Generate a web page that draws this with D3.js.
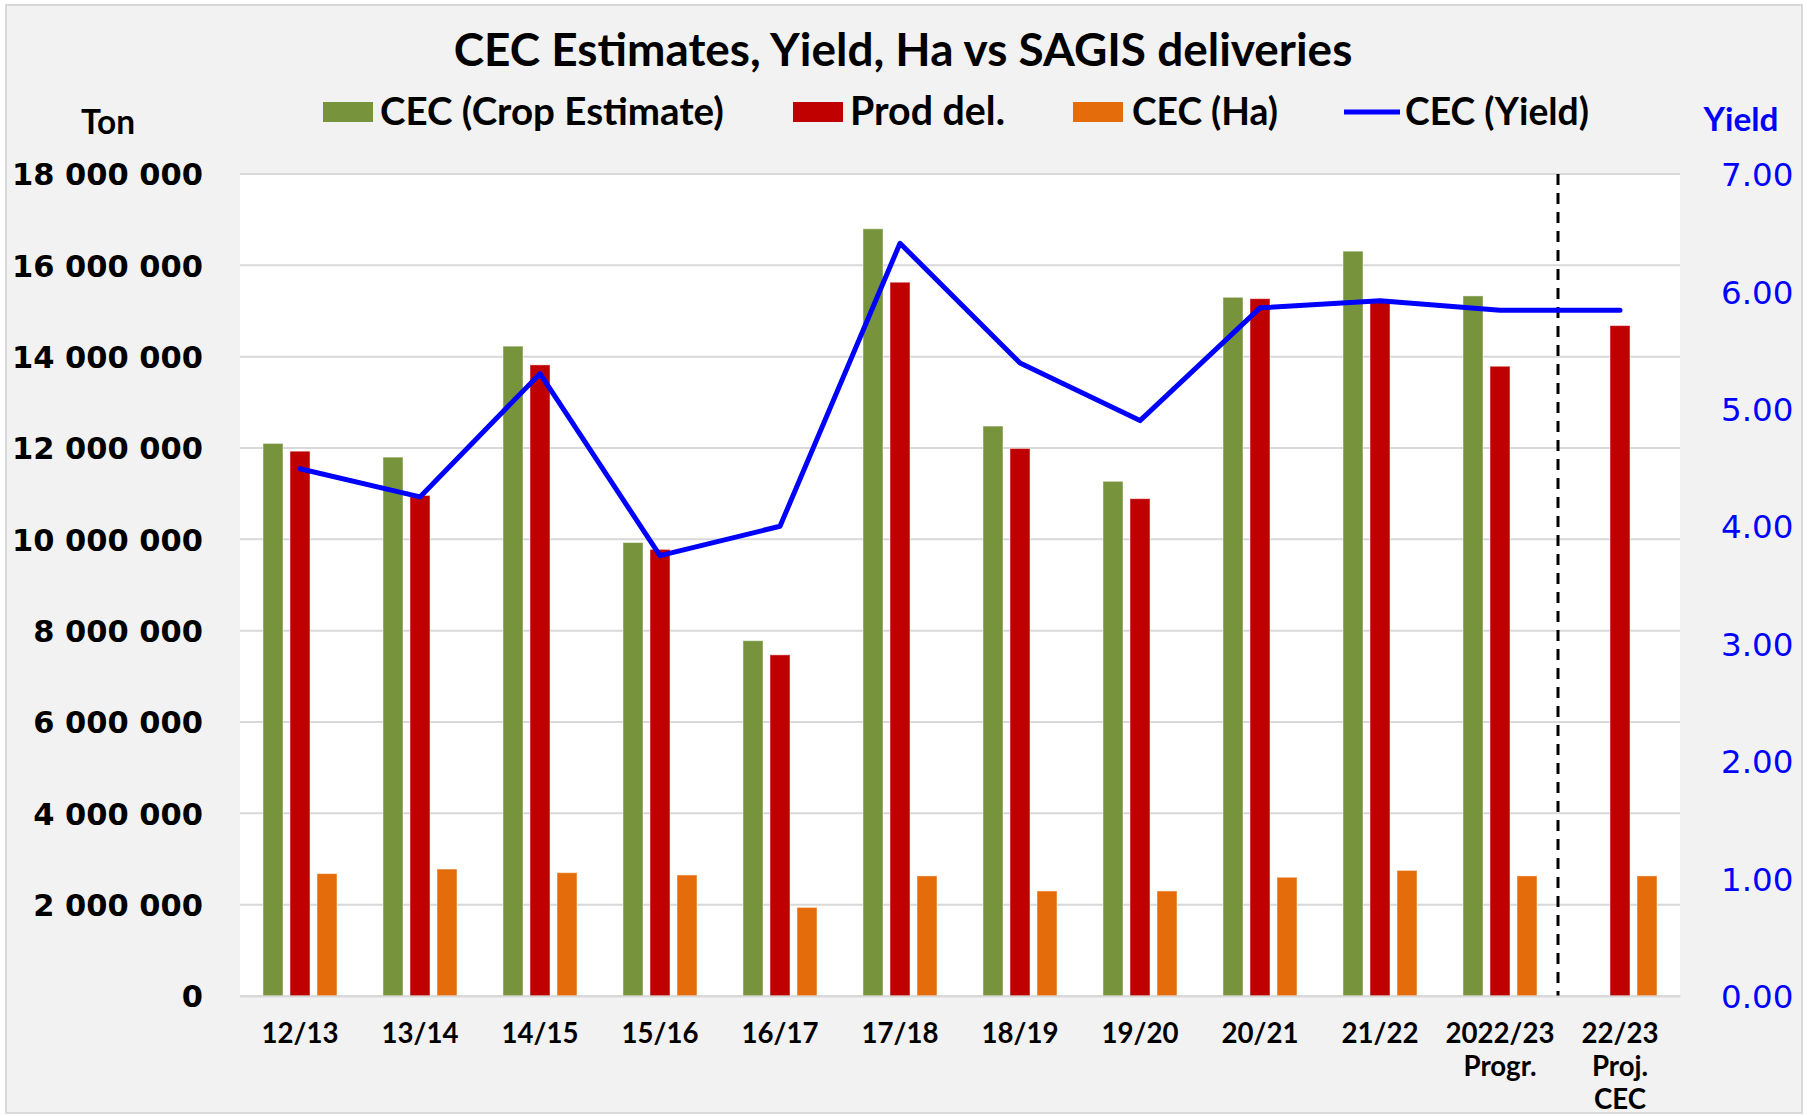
<!DOCTYPE html>
<html><head><meta charset="utf-8">
<script src="https://cdn.jsdelivr.net/npm/d3@7/dist/d3.min.js"></script>
<style>
html,body{margin:0;padding:0;background:#fff;}
svg{display:block;}
</style></head>
<body>
<svg id="chart" width="1807" height="1116"></svg>
<script>
// ---- data ----
const categories = ["12/13","13/14","14/15","15/16","16/17","17/18","18/19","19/20","20/21","21/22","2022/23 Progr.","22/23 Proj. CEC"];
const xTickLines = [["12/13"],["13/14"],["14/15"],["15/16"],["16/17"],["17/18"],["18/19"],["19/20"],["20/21"],["21/22"],["2022/23","Progr."],["22/23","Proj.","CEC"]];
const cropEstimate = [12100000,11800000,14230000,9930000,7780000,16800000,12480000,11270000,15300000,16310000,15330000,null];
const prodDel      = [11930000,10960000,13820000,9780000,7470000,15630000,11990000,10890000,15270000,15200000,13790000,14680000];
const hectares     = [2680000,2780000,2700000,2650000,1940000,2630000,2300000,2300000,2600000,2750000,2630000,2630000];
const yieldVals    = [4.49,4.25,5.30,3.75,4.00,6.41,5.39,4.90,5.86,5.92,5.84,5.84];
const leftTicks = [0,2000000,4000000,6000000,8000000,10000000,12000000,14000000,16000000,18000000];
const rightTicks = [0,1,2,3,4,5,6,7];
const seriesNames = ["CEC (Crop Estimate)","Prod del.","CEC (Ha)","CEC (Yield)"];
const seriesColors = ["#77933c","#c00000","#e46c0a","#0000ff"];
const titleText = "CEC Estimates, Yield, Ha vs SAGIS deliveries";

// ---- layout ----
const W = 1807, H = 1116;
const plot = {l:240, r:1680, t:174, b:996};
const svg = d3.select("#chart");
const narrow = "Lato, 'Open Sans', sans-serif";
const wide = "'DejaVu Sans', Verdana, sans-serif";

function fit(sel, target){
  sel.each(function(){
    const fs = parseFloat(d3.select(this).attr("font-size"));
    const w = this.getComputedTextLength();
    if (w > 0) d3.select(this).attr("font-size", (fs*target/w).toFixed(2));
  });
}

svg.append("rect").attr("x",0).attr("y",0).attr("width",W).attr("height",H).attr("fill","#ffffff");
svg.append("rect").attr("x",6).attr("y",5).attr("width",W-11).attr("height",H-8)
  .attr("fill","#f2f2f2").attr("stroke","#d9d9d9").attr("stroke-width",2);
svg.append("rect").attr("x",plot.l).attr("y",plot.t).attr("width",plot.r-plot.l).attr("height",plot.b-plot.t).attr("fill","#ffffff");

const x = d3.scaleBand().domain(categories).range([plot.l, plot.r]).paddingInner(0).paddingOuter(0);
const bw = x.bandwidth();
const xs = d3.scaleBand().domain([0,1,2]).range([bw*(0.5-0.3375), bw*(0.5+0.3375)]).paddingInner(0.26).paddingOuter(0.13);
const y = d3.scaleLinear().domain([0,18000000]).range([plot.b, plot.t]);
const y2 = d3.scaleLinear().domain([0,7]).range([plot.b, plot.t]);

// gridlines
svg.append("g").selectAll("line").data(leftTicks).join("line")
  .attr("x1",plot.l).attr("x2",plot.r).attr("y1",d=>y(d)).attr("y2",d=>y(d))
  .attr("stroke","#d9d9d9").attr("stroke-width",2);

// bars
const series = [cropEstimate, prodDel, hectares];
series.forEach((vals, si) => {
  svg.append("g").selectAll("rect")
    .data(categories.map((c,i)=>({c, v:vals[i]})).filter(d=>d.v!=null))
    .join("rect")
    .attr("x", d=>x(d.c)+xs(si))
    .attr("width", xs.bandwidth())
    .attr("y", d=>y(d.v))
    .attr("height", d=>y(0)-y(d.v))
    .attr("fill", seriesColors[si])
    .attr("stroke", "rgba(255,255,255,0.45)").attr("stroke-width",1);
});

// dashed separator
const sepX = x(categories[categories.length-1]) - 2;
svg.append("line").attr("x1",sepX).attr("x2",sepX).attr("y1",plot.t).attr("y2",plot.b)
  .attr("stroke","#000").attr("stroke-width",3).attr("stroke-dasharray","11,8");

// yield line
const line = d3.line().x((d,i)=>x(categories[i])+bw/2).y(d=>y2(d));
svg.append("path").datum(yieldVals).attr("d", line).attr("fill","none")
  .attr("stroke", seriesColors[3]).attr("stroke-width",5).attr("stroke-linejoin","round").attr("stroke-linecap","round");

// left axis
const fmt = d3.formatLocale({decimal:".", thousands:" ", grouping:[3], currency:["",""]}).format(",");
const gl = svg.append("g").attr("transform",`translate(${plot.l},0)`)
  .call(d3.axisLeft(y).tickValues(leftTicks).tickFormat(fmt).tickSize(0).tickPadding(37));
gl.select(".domain").remove();
gl.selectAll("text").attr("font-family",wide).attr("font-weight","bold").attr("font-size",30.5).attr("fill","#000").attr("dy","0.36em");

// right axis
const gr = svg.append("g").attr("transform",`translate(${plot.r},0)`)
  .call(d3.axisRight(y2).tickValues(rightTicks).tickFormat(d3.format(".2f")).tickSize(0).tickPadding(41));
gr.select(".domain").remove();
gr.selectAll("text").attr("font-family",wide).attr("font-size",32.5).attr("fill","#0000ff").attr("dy","0.36em");

// bottom axis
const gb = svg.append("g").attr("transform",`translate(0,${plot.b})`)
  .call(d3.axisBottom(x).tickSize(0).tickPadding(0));
gb.select(".domain").attr("stroke","#d9d9d9").attr("stroke-width",2);
let xfs = 25;
gb.selectAll("text").each(function(d,i){
  const t = d3.select(this).text("").attr("y",0).attr("dy",null)
    .attr("font-family",narrow).attr("font-weight","bold").attr("font-size",xfs).attr("fill","#000");
  xTickLines[i].forEach((s,k)=>{
    t.append("tspan").attr("x",0).attr("y",47+k*33).text(s);
  });
});
{
  const first = gb.select(".tick text").node();
  const w = first.getComputedTextLength();
  if (w > 0) xfs = xfs * 77 / w;
  gb.selectAll(".tick text").attr("font-size", xfs.toFixed(2));
}

// title
const title = svg.append("text").attr("x",903).attr("y",66).attr("text-anchor","middle")
  .attr("font-family",narrow).attr("font-weight","bold").attr("font-size",36).attr("fill","#000").text(titleText);
fit(title, 899);

// axis titles
const ton = svg.append("text").attr("x",108).attr("y",134).attr("text-anchor","middle")
  .attr("font-family",narrow).attr("font-weight","bold").attr("font-size",26).attr("fill","#000").text("Ton");
fit(ton, 54);
const yl = svg.append("text").attr("x",1741).attr("y",131).attr("text-anchor","middle")
  .attr("font-family",narrow).attr("font-weight","bold").attr("font-size",26).attr("fill","#0000ff").text("Yield");
fit(yl, 75);

// legend
const legendPos = [
  {sx:323, tx:380, tw:344},
  {sx:793, tx:850, tw:155},
  {sx:1073, tx:1132, tw:146},
  {sx:1344, tx:1405, tw:184}
];
const lg = svg.append("g");
seriesNames.forEach((n,i)=>{
  const p = legendPos[i];
  if (i<3) lg.append("rect").attr("x",p.sx).attr("y",102).attr("width",50).attr("height",20).attr("fill",seriesColors[i]);
  else lg.append("line").attr("x1",p.sx).attr("x2",p.sx+56).attr("y1",112).attr("y2",112).attr("stroke",seriesColors[i]).attr("stroke-width",5);
  const t = lg.append("text").attr("x",p.tx).attr("y",125).attr("font-family",narrow).attr("font-weight","bold")
    .attr("font-size",32).attr("fill","#000").text(n);
  fit(t, p.tw);
});
</script>
</body></html>
